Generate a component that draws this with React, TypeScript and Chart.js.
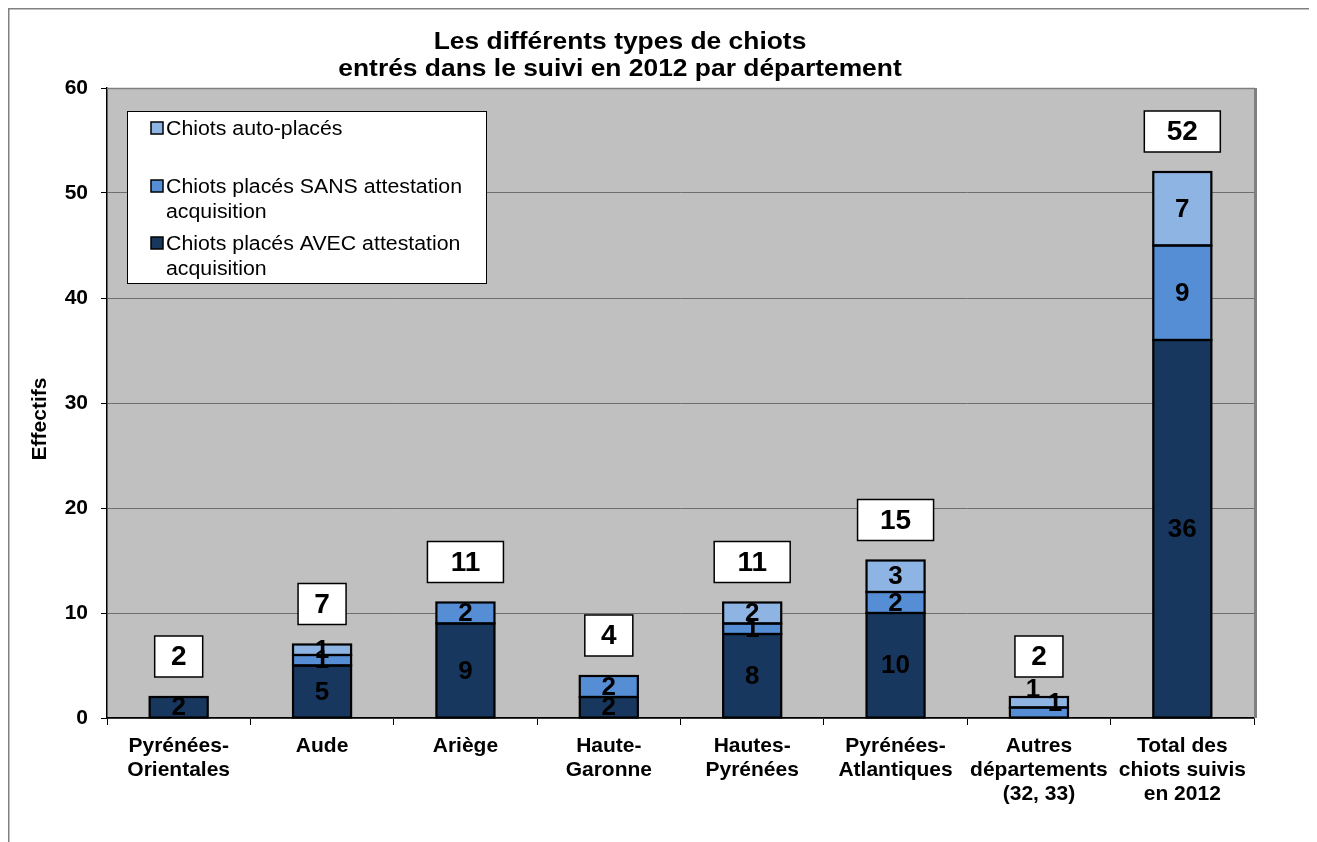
import React, { useEffect, useRef } from "react";
import { Chart, registerables } from "chart.js";

Chart.register(...registerables);

// ---------- data ----------
const CATEGORIES: string[][] = [
  ["Pyrénées-", "Orientales"],
  ["Aude"],
  ["Ariège"],
  ["Haute-", "Garonne"],
  ["Hautes-", "Pyrénées"],
  ["Pyrénées-", "Atlantiques"],
  ["Autres", "départements", "(32, 33)"],
  ["Total des", "chiots suivis", "en 2012"],
];
const AVEC = [2, 5, 9, 2, 8, 10, 0, 36];
const SANS = [0, 1, 2, 2, 1, 2, 1, 9];
const AUTO = [0, 1, 0, 0, 2, 3, 1, 7];
const TOTALS = [2, 7, 11, 4, 11, 15, 2, 52];
const Y_TICKS = [0, 10, 20, 30, 40, 50, 60];
const TITLE_LINES = ["Les différents types de chiots", "entrés dans le suivi en 2012 par département"];
const Y_TITLE = "Effectifs";
const SERIES_AVEC = "Chiots placés AVEC attestation acquisition";
const SERIES_SANS = "Chiots placés SANS attestation acquisition";
const SERIES_AUTO = "Chiots auto-placés";
const LEGEND_LINES: string[][] = [
  ["Chiots auto-placés"],
  ["Chiots placés SANS attestation", "acquisition"],
  ["Chiots placés AVEC attestation", "acquisition"],
];

// ---------- style ----------
const FONT = '"Liberation Sans", Arial, Helvetica, sans-serif';
const C_AVEC = "#17375e";
const C_SANS = "#558ed5";
const C_AUTO = "#8eb4e3";
const LEGEND_COLORS = [C_AUTO, C_SANS, C_AVEC];
// manual label nudges (dataset-category) as in the original
const LABEL_NUDGE: Record<string, [number, number]> = {
  "1-6": [16, -10],
  "2-6": [-6, -13],
};

const nz = (arr: number[]) => arr.map((v) => (v === 0 ? null : v));

function stretchedText(ctx: any, text: string, x: number, y: number, sx: number) {
  ctx.save();
  ctx.translate(x, y);
  ctx.scale(sx, 1);
  ctx.fillText(text, 0, 0);
  ctx.restore();
}

const decor = {
  id: "decor",
  beforeDraw(chart: any) {
    const { ctx, chartArea: a, width, height } = chart;
    ctx.save();
    ctx.fillStyle = "#ffffff";
    ctx.fillRect(0, 0, width, height);
    ctx.strokeStyle = "#808080";
    ctx.lineWidth = 1.5;
    ctx.beginPath();
    ctx.moveTo(0.75, height);
    ctx.lineTo(0.75, 0.75);
    ctx.lineTo(width, 0.75);
    ctx.stroke();
    ctx.fillStyle = "#c0c0c0";
    ctx.fillRect(a.left, a.top, a.right - a.left, a.bottom - a.top);
    ctx.restore();
  },
  beforeDatasetsDraw(chart: any) {
    const { ctx, chartArea: a } = chart;
    ctx.save();
    ctx.strokeStyle = "#808080";
    ctx.lineWidth = 1.5;
    ctx.beginPath();
    ctx.moveTo(a.left, a.top + 0.5);
    ctx.lineTo(a.right + 1, a.top + 0.5);
    ctx.stroke();
    ctx.lineWidth = 3;
    ctx.beginPath();
    ctx.moveTo(a.right + 1.5, a.top);
    ctx.lineTo(a.right + 1.5, a.bottom);
    ctx.stroke();
    ctx.restore();
  },
  afterDatasetsDraw(chart: any) {
    const { ctx } = chart;
    ctx.save();
    // bar outlines (centered on edges)
    ctx.strokeStyle = "#000";
    ctx.lineWidth = 2.2;
    chart.data.datasets.forEach((ds: any, i: number) => {
      const meta = chart.getDatasetMeta(i);
      meta.data.forEach((el: any, j: number) => {
        if (!ds.data[j]) return;
        const top = Math.min(el.y, el.base);
        const h = Math.abs(el.base - el.y);
        ctx.strokeRect(el.x - el.width / 2, top, el.width, h);
      });
    });
    ctx.fillStyle = "#000";
    ctx.textAlign = "center";
    ctx.textBaseline = "middle";
    ctx.font = `bold 26px ${FONT}`;
    chart.data.datasets.forEach((ds: any, i: number) => {
      const meta = chart.getDatasetMeta(i);
      meta.data.forEach((el: any, j: number) => {
        const v = ds.data[j];
        if (!v) return;
        const n = LABEL_NUDGE[`${i}-${j}`] || [0, 0];
        ctx.fillText(String(v), el.x + n[0], (el.y + el.base) / 2 + n[1] + 1);
      });
    });
    // total boxes
    const ys = chart.scales.y;
    const meta0 = chart.getDatasetMeta(0);
    TOTALS.forEach((t, j) => {
      const x = meta0.data[j].x;
      const top = ys.getPixelForValue(t);
      const txt = String(t);
      const w = 20 + 28 * txt.length;
      const h = 41;
      const by = top - 20 - h;
      ctx.fillStyle = "#fff";
      ctx.fillRect(x - w / 2, by, w, h);
      ctx.strokeStyle = "#000";
      ctx.lineWidth = 1.5;
      ctx.strokeRect(x - w / 2, by, w, h);
      ctx.fillStyle = "#000";
      ctx.font = `bold 28px ${FONT}`;
      ctx.fillText(txt, x, by + h / 2 + 1);
    });
    ctx.restore();
  },
  afterDraw(chart: any) {
    const { ctx } = chart;
    ctx.save();
    // title
    ctx.fillStyle = "#000";
    ctx.textAlign = "center";
    ctx.textBaseline = "alphabetic";
    ctx.font = `bold 24px ${FONT}`;
    stretchedText(ctx, TITLE_LINES[0], 612, 41, 1.1);
    stretchedText(ctx, TITLE_LINES[1], 612, 68, 1.1);
    // y title
    ctx.save();
    ctx.translate(32, 411);
    ctx.rotate(-Math.PI / 2);
    ctx.textBaseline = "middle";
    ctx.font = `bold 20px ${FONT}`;
    ctx.scale(1.05, 1);
    ctx.fillText(Y_TITLE, 0, 0);
    ctx.restore();
    // legend
    const lx = 119, ly = 103, lw = 359, lh = 172;
    ctx.fillStyle = "#fff";
    ctx.fillRect(lx, ly, lw, lh);
    ctx.strokeStyle = "#000";
    ctx.lineWidth = 1;
    ctx.strokeRect(lx + 0.5, ly + 0.5, lw, lh);
    const itemY = [120, 178, 235];
    ctx.font = `20px ${FONT}`;
    ctx.textAlign = "left";
    ctx.textBaseline = "middle";
    LEGEND_LINES.forEach((lines, k) => {
      const y = itemY[k];
      ctx.fillStyle = LEGEND_COLORS[k];
      ctx.fillRect(143, y - 6, 12, 12);
      ctx.strokeStyle = "#000";
      ctx.lineWidth = 1.5;
      ctx.strokeRect(143, y - 6, 12, 12);
      ctx.fillStyle = "#000";
      lines.forEach((ln, m) => stretchedText(ctx, ln, 158, y + 1 + m * 25, 1.065));
    });
    ctx.restore();
  },
};

export default function App() {
  const ref = useRef<HTMLCanvasElement | null>(null);
  useEffect(() => {
    if (!ref.current) return;
    const common = { borderWidth: 0, inflateAmount: 0, barPercentage: 0.405, categoryPercentage: 1 };
    const chart = new Chart(ref.current, {
      type: "bar",
      data: {
        labels: CATEGORIES as any,
        datasets: [
          { label: SERIES_AVEC, data: nz(AVEC) as any, backgroundColor: C_AVEC, ...common },
          { label: SERIES_SANS, data: nz(SANS) as any, backgroundColor: C_SANS, ...common },
          { label: SERIES_AUTO, data: nz(AUTO) as any, backgroundColor: C_AUTO, ...common },
        ],
      },
      options: {
        animation: false,
        responsive: true,
        maintainAspectRatio: false,
        layout: { padding: { top: 80, right: 63, left: 0, bottom: 0 } },
        plugins: { legend: { display: false }, title: { display: false }, tooltip: { enabled: false } },
        scales: {
          x: {
            stacked: true,
            grid: { display: true, drawOnChartArea: false, drawTicks: true, tickLength: 7, color: "#000", tickColor: "#000", offset: true },
            border: { display: true, color: "#000", width: 1.5 },
            ticks: {
              color: "#000",
              font: { family: FONT, size: 21, weight: "bold", lineHeight: 1.15 },
              maxRotation: 0,
              minRotation: 0,
              autoSkip: false,
              padding: 9,
            },
            afterFit: (s: any) => { s.height = 124; },
          },
          y: {
            stacked: true,
            min: 0,
            max: 60,
            afterBuildTicks: (s: any) => { s.ticks = Y_TICKS.map((v) => ({ value: v })); },
            grid: { color: "#6e6e6e", tickColor: "#000", tickLength: 6, lineWidth: 1 },
            border: { display: true, color: "#000", width: 1.5 },
            ticks: { color: "#000", font: { family: FONT, size: 21, weight: "bold" }, padding: 13 },
            afterFit: (s: any) => { s.width = 99; },
          },
        },
      },
      plugins: [decor],
    });
    return () => chart.destroy();
  }, []);
  return (
    <div style={{ position: "relative", width: 1309, height: 834 }}>
      <canvas ref={ref} />
    </div>
  );
}
